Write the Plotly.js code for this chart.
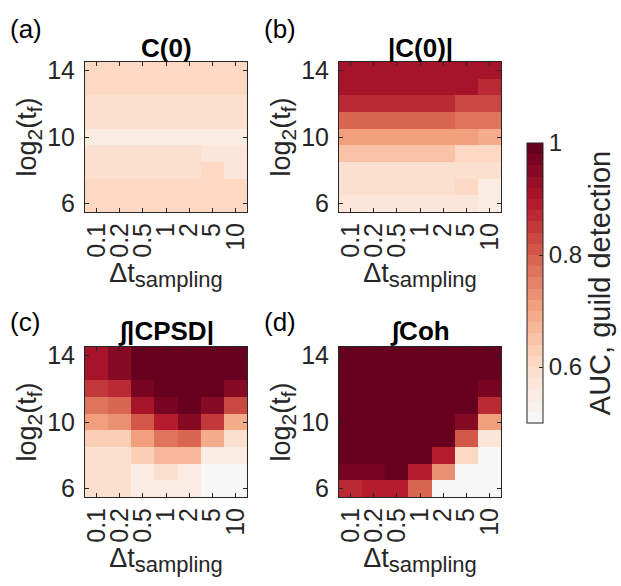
<!DOCTYPE html>
<html>
<head>
<meta charset="utf-8">
<script src="https://cdn.plot.ly/plotly-3.0.1.min.js"></script>
<style>html,body{margin:0;padding:0;background:#fff;}#chart{width:621px;height:586px;}</style>
</head>
<body>
<div id="chart"></div>
<script>
// Categories
const dtSampling = ['0.1', '0.2', '0.5', '1', '2', '5', '10'];
const log2tf = [6, 7, 8, 9, 10, 11, 12, 13, 14];

// AUC values, rows ordered from log2(tf)=6 (first) to 14 (last)
const aucC0 = [
  [0.600, 0.600, 0.600, 0.600, 0.600, 0.600, 0.600],
  [0.600, 0.600, 0.600, 0.600, 0.600, 0.600, 0.600],
  [0.582, 0.582, 0.582, 0.582, 0.582, 0.605, 0.562],
  [0.582, 0.582, 0.582, 0.582, 0.582, 0.562, 0.562],
  [0.547, 0.547, 0.547, 0.547, 0.547, 0.547, 0.558],
  [0.584, 0.584, 0.584, 0.584, 0.584, 0.584, 0.584],
  [0.584, 0.584, 0.584, 0.584, 0.584, 0.584, 0.584],
  [0.600, 0.600, 0.600, 0.600, 0.600, 0.600, 0.600],
  [0.600, 0.600, 0.600, 0.600, 0.600, 0.600, 0.600]
];
const aucAbsC0 = [
  [0.565, 0.565, 0.565, 0.565, 0.565, 0.565, 0.545],
  [0.595, 0.595, 0.595, 0.595, 0.595, 0.602, 0.548],
  [0.598, 0.598, 0.598, 0.598, 0.598, 0.598, 0.598],
  [0.644, 0.644, 0.644, 0.644, 0.644, 0.600, 0.600],
  [0.700, 0.700, 0.700, 0.700, 0.700, 0.700, 0.685],
  [0.786, 0.786, 0.786, 0.786, 0.786, 0.762, 0.762],
  [0.861, 0.861, 0.861, 0.861, 0.861, 0.836, 0.836],
  [0.900, 0.900, 0.900, 0.900, 0.900, 0.900, 0.868],
  [0.900, 0.900, 0.900, 0.900, 0.900, 0.900, 0.900]
];
const aucCPSD = [
  [0.582, 0.582, 0.540, 0.540, 0.540, 0.500, 0.500],
  [0.582, 0.582, 0.543, 0.582, 0.550, 0.500, 0.500],
  [0.597, 0.597, 0.637, 0.674, 0.674, 0.543, 0.543],
  [0.639, 0.639, 0.700, 0.772, 0.790, 0.697, 0.582],
  [0.700, 0.726, 0.800, 0.892, 0.940, 0.853, 0.690],
  [0.777, 0.786, 0.900, 0.960, 1.000, 0.957, 0.829],
  [0.854, 0.871, 0.960, 1.000, 1.000, 1.000, 0.957],
  [0.900, 0.948, 1.000, 1.000, 1.000, 1.000, 1.000],
  [0.900, 0.948, 1.000, 1.000, 1.000, 1.000, 1.000]
];
const aucCoh = [
  [0.870, 0.895, 0.895, 0.790, 0.500, 0.500, 0.500],
  [0.967, 0.967, 1.000, 0.893, 0.726, 0.500, 0.500],
  [1.000, 1.000, 1.000, 1.000, 0.893, 0.607, 0.500],
  [1.000, 1.000, 1.000, 1.000, 1.000, 0.800, 0.570],
  [1.000, 1.000, 1.000, 1.000, 1.000, 0.950, 0.700],
  [1.000, 1.000, 1.000, 1.000, 1.000, 1.000, 0.866],
  [1.000, 1.000, 1.000, 1.000, 1.000, 1.000, 0.975],
  [1.000, 1.000, 1.000, 1.000, 1.000, 1.000, 1.000],
  [1.000, 1.000, 1.000, 1.000, 1.000, 1.000, 1.000]
];

const panelTitles = ['<b>C(0)</b>', '<b>|C(0)|</b>', '<b>∫|CPSD|</b>', '<b>∫Coh</b>'];
const panelLetters = ['(a)', '(b)', '(c)', '(d)'];
const yTicks = [6, 10, 14];
const cbTicks = [0.6, 0.8, 1];
const cbTickText = ['0.6', '0.8', '1'];

const W = 621, H = 586;
const FONT = 'Liberation Sans, Arial, Helvetica, sans-serif';
const INK = '#262626';
const TICK = 25, LABEL = 27;

// Colormap anchors (white -> dark red), quantised into 25 levels
const anchors = [
  [0.0, [247, 247, 247]],
  [0.2, [253, 219, 199]],
  [0.4, [244, 165, 130]],
  [0.6, [214, 96, 77]],
  [0.8, [178, 24, 43]],
  [1.0, [103, 0, 31]]
];
function cmapAt(t) {
  for (let i = 1; i < anchors.length; i++) {
    if (t <= anchors[i][0] + 1e-9) {
      const a = anchors[i - 1], b = anchors[i];
      const f = (t - a[0]) / (b[0] - a[0]);
      const c = a[1].map((v, k) => Math.round(v + f * (b[1][k] - v)));
      return 'rgb(' + c.join(',') + ')';
    }
  }
  const l = anchors[anchors.length - 1][1];
  return 'rgb(' + l.join(',') + ')';
}
const NLEV = 25;
const stepScale = [];
for (let k = 0; k < NLEV; k++) {
  const c = cmapAt(k / (NLEV - 1));
  stepScale.push([k / NLEV, c]);
  stepScale.push([(k + 1) / NLEV, c]);
}

// Panel plot areas in pixels [left, right, top, bottom]
const boxes = [
  [85, 247, 62, 212],
  [339, 501, 62, 212],
  [85, 247, 347, 497],
  [339, 501, 347, 497]
];
// vertical centres (px) of the panel titles and panel letters
const titleY = [48, 48, 331, 331];
const letterY = [29, 29, 322, 322];
const zs = [aucC0, aucAbsC0, aucCPSD, aucCoh];

const data = [];
const layout = {
  width: W, height: H,
  margin: {l: 0, r: 0, t: 0, b: 0},
  paper_bgcolor: '#fff', plot_bgcolor: '#fff',
  font: {family: FONT, color: INK, size: TICK},
  showlegend: false,
  annotations: [],
  coloraxis: {
    cmin: 0.5, cmax: 1,
    colorscale: stepScale,
    colorbar: {
      x: 527 / W, xanchor: 'left', xref: 'paper',
      y: 1 - 283 / H, yanchor: 'middle', yref: 'paper',
      len: 280 / H, lenmode: 'fraction',
      thickness: 16, thicknessmode: 'pixels',
      xpad: 0, ypad: 0,
      outlinewidth: 1, outlinecolor: INK,
      ticks: 'inside', ticklen: 4, tickcolor: INK,
      tickvals: cbTicks, ticktext: cbTickText,
      tickfont: {size: 24, family: FONT, color: INK},
      title: {text: 'AUC, guild detection', side: 'right', font: {size: 29, family: FONT, color: INK}}
    }
  }
};

const SUB = (s) => '<sub><span style="font-size:21px">' + s + '</span></sub>';

boxes.forEach((b, i) => {
  const n = i + 1;
  const xa = 'xaxis' + (n === 1 ? '' : n);
  const ya = 'yaxis' + (n === 1 ? '' : n);
  const xr = 'x' + (n === 1 ? '' : n);
  const yr = 'y' + (n === 1 ? '' : n);
  data.push({
    type: 'heatmap',
    x: dtSampling, y: log2tf, z: zs[i],
    coloraxis: 'coloraxis',
    xaxis: xr, yaxis: yr,
    xgap: 0, ygap: 0,
    hoverinfo: 'skip'
  });
  layout[xa] = {
    domain: [b[0] / W, b[1] / W],
    anchor: yr,
    type: 'category',
    range: [-0.5, 6.5],
    tickmode: 'array', tickvals: dtSampling, ticktext: dtSampling,
    showgrid: false, zeroline: false,
    showline: true, linecolor: INK, linewidth: 1, mirror: 'ticks',
    ticks: 'inside', ticklen: 4, tickcolor: INK,
    tickangle: -90,
    tickfont: {size: TICK, family: FONT, color: INK},
    title: {text: 'Δt' + '<sub><span style="font-size:22px">sampling</span></sub>', font: {size: LABEL, family: FONT, color: INK}, standoff: 0}
  };
  layout[ya] = {
    domain: [1 - b[3] / H, 1 - b[2] / H],
    anchor: xr,
    range: [5.5, 14.5],
    showgrid: false, zeroline: false,
    showline: true, linecolor: INK, linewidth: 1, mirror: 'ticks',
    ticks: 'inside', ticklen: 4, tickcolor: INK,
    ticklabelstandoff: 4,
    tickvals: yTicks, ticktext: yTicks.map(String),
    tickfont: {size: TICK, family: FONT, color: INK},
    title: {text: 'log' + SUB('2') + '(t' + SUB('f') + ')', font: {size: LABEL, family: FONT, color: INK}, standoff: 2}
  };
  layout.annotations.push({
    xref: 'paper', yref: 'paper',
    x: (b[0] + b[1]) / 2 / W, y: 1 - titleY[i] / H,
    xanchor: 'center', yanchor: 'middle',
    text: panelTitles[i], showarrow: false,
    font: {size: 26, family: FONT, color: '#000'}
  });
  layout.annotations.push({
    xref: 'paper', yref: 'paper',
    x: (b[0] - 77) / W, y: 1 - letterY[i] / H,
    xanchor: 'left', yanchor: 'middle',
    text: panelLetters[i], showarrow: false,
    font: {size: 26, family: FONT, color: '#000'}
  });
});

Plotly.newPlot('chart', data, layout, {staticPlot: true, displayModeBar: false});
</script>
</body>
</html>
